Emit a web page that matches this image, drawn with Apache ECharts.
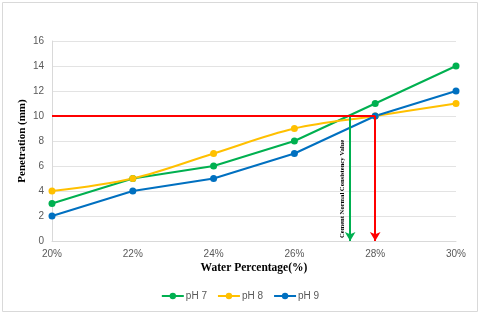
<!DOCTYPE html>
<html><head><meta charset="utf-8">
<script src="https://cdn.jsdelivr.net/npm/echarts@6/dist/echarts.min.js"></script>
<style>html,body{margin:0;padding:0;background:#fff}#c{width:480px;height:314px}</style>
</head><body><div id="c"></div>
<script>
const waterPct = [20, 22, 24, 26, 28, 30];
const ph7 = [3, 5, 6, 8, 11, 14];
const ph8 = [4, 5, 7, 9, 10, 11];
const ph9 = [2, 4, 5, 7, 10, 12];
const seriesNames = ['pH 7', 'pH 8', 'pH 9'];
const refPenetration = 10;
const ph9Consistency = 28;
const normalConsistency = 27.38;
const noteText = 'Cement Normal Consistency Value';

const pairs = v => waterPct.map((x, i) => [x, v[i]]);
const chart = echarts.init(document.getElementById('c'), null, {renderer: 'canvas'});
const serif = '"Liberation Serif","Times New Roman",serif';
const sans = '"Liberation Sans",Arial,sans-serif';
const lineSeries = (name, data, color, smooth, extra) => Object.assign({
  name, type: 'line', data: pairs(data), smooth: smooth ? 0.35 : false,
  symbol: 'circle', symbolSize: 7, lineStyle: {color, width: 2}, itemStyle: {color}, z: 3
}, extra || {});

chart.setOption({
  animation: false,
  grid: {left: 52, right: 24, top: 41, bottom: 73},
  legend: {
    bottom: 8, left: 'center', itemWidth: 22, itemHeight: 8, itemGap: 10,
    textStyle: {fontFamily: sans, fontSize: 10, color: '#595959', padding: [0, 0, 0, -3]},
    data: seriesNames
  },
  xAxis: {
    type: 'value', min: 20, max: 30, interval: 2,
    name: 'Water Percentage(%)', nameLocation: 'middle', nameGap: 21, nameMoveOverlap: false,
    nameTextStyle: {fontFamily: serif, fontWeight: 'bold', fontSize: 11.5, color: '#000'},
    axisLine: {lineStyle: {color: '#d9d9d9'}}, axisTick: {show: false},
    axisLabel: {formatter: '{value}%', fontFamily: sans, fontSize: 10, color: '#595959', margin: 8},
    splitLine: {show: false}
  },
  yAxis: {
    type: 'value', min: 0, max: 16, interval: 2,
    name: 'Penetration (mm)', nameLocation: 'middle', nameGap: 24, nameMoveOverlap: false,
    nameTextStyle: {fontFamily: serif, fontWeight: 'bold', fontSize: 11, color: '#000'},
    axisLine: {show: true, lineStyle: {color: '#d9d9d9'}}, axisTick: {show: false},
    axisLabel: {fontFamily: sans, fontSize: 10, color: '#595959', margin: 8},
    splitLine: {lineStyle: {color: '#e3e3e3'}}
  },
  series: [
    lineSeries(seriesNames[0], ph7, '#00B050', false, {
      markLine: {
        silent: true, symbol: ['none', 'arrow'], symbolSize: [8, 9], label: {show: false},
        lineStyle: {color: '#00B050', width: 2, type: 'solid'},
        data: [[{coord: [normalConsistency, refPenetration]}, {coord: [normalConsistency, 0]}]]
      }
    }),
    lineSeries(seriesNames[1], ph8, '#FFC000', true),
    lineSeries(seriesNames[2], ph9, '#0070C0', false, {
      markLine: {
        silent: true, symbol: ['none', 'none'], label: {show: false},
        lineStyle: {color: '#FF0000', width: 2, type: 'solid'},
        data: [
          [{coord: [waterPct[0], refPenetration]}, {coord: [ph9Consistency, refPenetration]}],
          [{coord: [ph9Consistency, refPenetration]}, {coord: [ph9Consistency, 0], symbol: 'arrow', symbolSize: [8, 9]}]
        ]
      }
    })
  ]
});

const basePx = chart.convertToPixel({gridIndex: 0}, [normalConsistency, 0]);
chart.setOption({
  graphic: [
    {type: 'rect', shape: {x: 2.5, y: 2.5, width: 475, height: 309}, style: {fill: null, stroke: '#d9d9d9', lineWidth: 1}, silent: true, z: -1},
    {type: 'text', x: basePx[0] - 8, y: basePx[1] - 3, rotation: Math.PI / 2, silent: true,
     style: {text: noteText, fontFamily: serif, fontWeight: 'bold', fontSize: 6.6, fill: '#000', align: 'left', verticalAlign: 'middle'}}
  ]
});
</script></body></html>
